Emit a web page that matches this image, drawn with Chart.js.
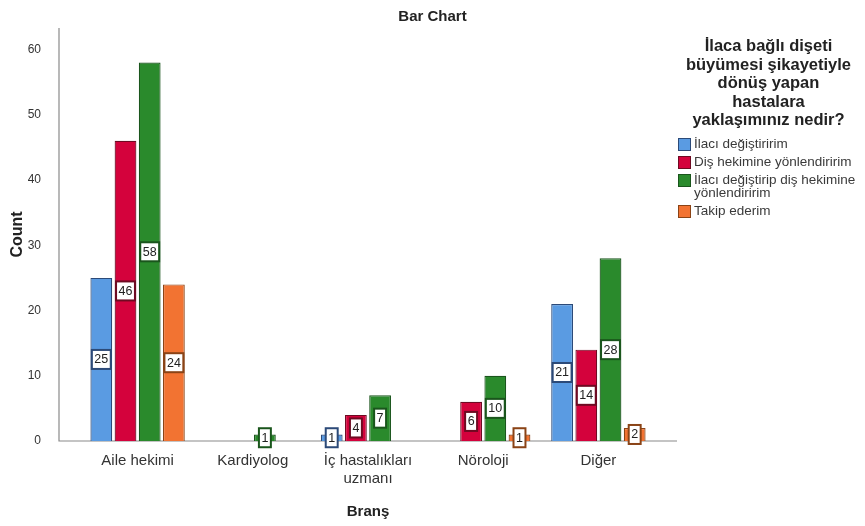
<!DOCTYPE html>
<html>
<head>
<meta charset="utf-8">
<script src="https://cdn.jsdelivr.net/npm/chart.js@4"></script>
<style>
    body { margin: 0; background: #fff; font-family: "Liberation Sans", Arial, sans-serif; }
    #wrap { position: relative; width: 865px; height: 526px; }
    #legend { position: absolute; left: 672px; top: 36px; width: 193px; color: #222; }
    #legend .ttl { font-weight: bold; font-size: 16.5px; line-height: 18.5px; text-align: center; margin-bottom: 8px; }
    #legend .item { display: flex; align-items: flex-start; font-size: 13.5px; line-height: 13.5px; color: #3a3a3a; margin-bottom: 4px; }
    #legend .box { width: 11px; height: 11px; margin: 1px 3px 0 6px; flex: none; }
</style>
</head>
<body>
<div id="wrap">
    <canvas id="chart" width="865" height="526"></canvas>
    <div id="legend"></div>
</div>
<script>
// categories (x axis) and tick values
const categories = ['Aile hekimi', 'Kardiyolog', ['İç hastalıkları', 'uzmanı'], 'Nöroloji', 'Diğer'];
const yTicks = [0, 10, 20, 30, 40, 50, 60];

// series, one per answer
const seriesNames = ['İlacı değiştiririm', 'Diş hekimine yönlendiririm', 'İlacı değiştirip diş hekimine yönlendiririm', 'Takip ederim'];
const ilaciDegistiririm = [25, 0, 1, 0, 21];
const disHekimineYonlendiririm = [46, 0, 4, 6, 14];
const ilaciDegistiripYonlendiririm = [58, 1, 7, 10, 28];
const takipEderim = [24, 0, 0, 1, 2];

const fills = ['#5A9BE2', '#D4023C', '#2A8A2C', '#F27332'];
const borders = ['#2C4A78', '#6E0A22', '#1A551C', '#8A4316'];

const legendTitle = 'İlaca bağlı dişeti büyümesi şikayetiyle dönüş yapan hastalara yaklaşımınız nedir?';

// white boxes with the count, at half bar height
const valueLabels = {
    id: 'valueLabels',
    afterDatasetsDraw(chart) {
        const ctx = chart.ctx;
        ctx.save();
        ctx.font = '12.5px "Liberation Sans", Arial';
        ctx.textAlign = 'center';
        ctx.textBaseline = 'middle';
        chart.data.datasets.forEach((ds, i) => {
            chart.getDatasetMeta(i).data.forEach((bar, j) => {
                const v = ds.data[j];
                if (!v) return;
                const text = String(v);
                const w = ctx.measureText(text).width + 5;
                const h = 19;
                const cy = (bar.y + bar.base) / 2;
                ctx.fillStyle = '#fff';
                ctx.fillRect(bar.x - w / 2, cy - h / 2, w, h);
                ctx.strokeStyle = borders[i];
                ctx.lineWidth = 2;
                ctx.strokeRect(bar.x - w / 2, cy - h / 2, w, h);
                ctx.fillStyle = '#222';
                ctx.fillText(text, bar.x, cy + 0.5);
            });
        });
        ctx.restore();
    }
};

// axis lines, drawn a bit wider than the category band
const axisLines = {
    id: 'axisLines',
    beforeDatasetsDraw(chart) {
        const a = chart.chartArea;
        const ctx = chart.ctx;
        const ext = 21;
        ctx.save();
        ctx.strokeStyle = '#8a8a8a';
        ctx.lineWidth = 1.2;
        ctx.beginPath();
        ctx.moveTo(a.left - ext, a.top);
        ctx.lineTo(a.left - ext, a.bottom);
        ctx.lineTo(a.right + ext, a.bottom);
        ctx.stroke();
        ctx.restore();
    }
};

const seriesData = [ilaciDegistiririm, disHekimineYonlendiririm, ilaciDegistiripYonlendiririm, takipEderim];

new Chart(document.getElementById('chart'), {
    type: 'bar',
    data: {
        labels: categories,
        datasets: seriesData.map((d, i) => ({
            label: seriesNames[i],
            data: d,
            backgroundColor: fills[i],
            borderColor: borders[i],
            borderWidth: 1.2,
            categoryPercentage: 0.84,
            barPercentage: 0.9
        }))
    },
    options: {
        responsive: false,
        animation: false,
        layout: { padding: 0 },
        plugins: {
            legend: { display: false },
            tooltip: { enabled: false },
            title: {
                display: true,
                text: 'Bar Chart',
                color: '#222',
                font: { family: '"Liberation Sans", Arial', size: 15, weight: 'bold' },
                padding: { top: 8, bottom: 2 }
            }
        },
        scales: {
            x: {
                grid: { display: false, drawTicks: false },
                border: { display: false },
                ticks: {
                    color: '#333',
                    padding: 11,
                    font: { family: '"Liberation Sans", Arial', size: 15 }
                },
                title: {
                    display: true,
                    text: 'Branş',
                    color: '#222',
                    font: { family: '"Liberation Sans", Arial', size: 15, weight: 'bold' },
                    padding: { top: 0, bottom: 5 }
                },
                afterFit(scale) {
                    scale.height = 85;
                    scale.paddingLeft = 0;
                    scale.paddingRight = 0;
                }
            },
            y: {
                min: 0,
                max: 63.3,
                grid: { display: false, drawTicks: false },
                border: { display: false },
                ticks: {
                    stepSize: 10,
                    color: '#333',
                    padding: 39,
                    font: { family: '"Liberation Sans", Arial', size: 12 }
                },
                afterBuildTicks(scale) {
                    scale.ticks = yTicks.map(v => ({ value: v }));
                },
                title: {
                    display: true,
                    text: 'Count',
                    color: '#222',
                    font: { family: '"Liberation Sans", Arial', size: 16, weight: 'bold' },
                    padding: { top: 8, bottom: 0 }
                },
                afterFit(scale) {
                    scale.width = 80;
                    scale.paddingTop = 0;
                    scale.paddingBottom = 0;
                }
            },
            // empty scale that keeps room for the legend on the right
            legendSpace: {
                position: 'right',
                grid: { display: false, drawTicks: false },
                border: { display: false },
                ticks: { display: false },
                afterFit(scale) {
                    scale.width = 209;
                    scale.paddingTop = 0;
                    scale.paddingBottom = 0;
                }
            }
        }
    },
    plugins: [axisLines, valueLabels]
});

// legend on the right
const legend = document.getElementById('legend');
let html = '<div class="ttl">' + legendTitle.replace('dişeti ', 'dişeti<br>').replace('şikayetiyle ', 'şikayetiyle<br>').replace('yapan ', 'yapan<br>').replace('hastalara ', 'hastalara<br>') + '</div>';
seriesNames.forEach((name, i) => {
    const label = i === 2 ? name.replace('hekimine ', 'hekimine<br>') : name;
    html += '<div class="item"><span class="box" style="background:' + fills[i] + ';border:1px solid ' + borders[i] + '"></span><span>' + label + '</span></div>';
});
legend.innerHTML = html;
</script>
</body>
</html>
